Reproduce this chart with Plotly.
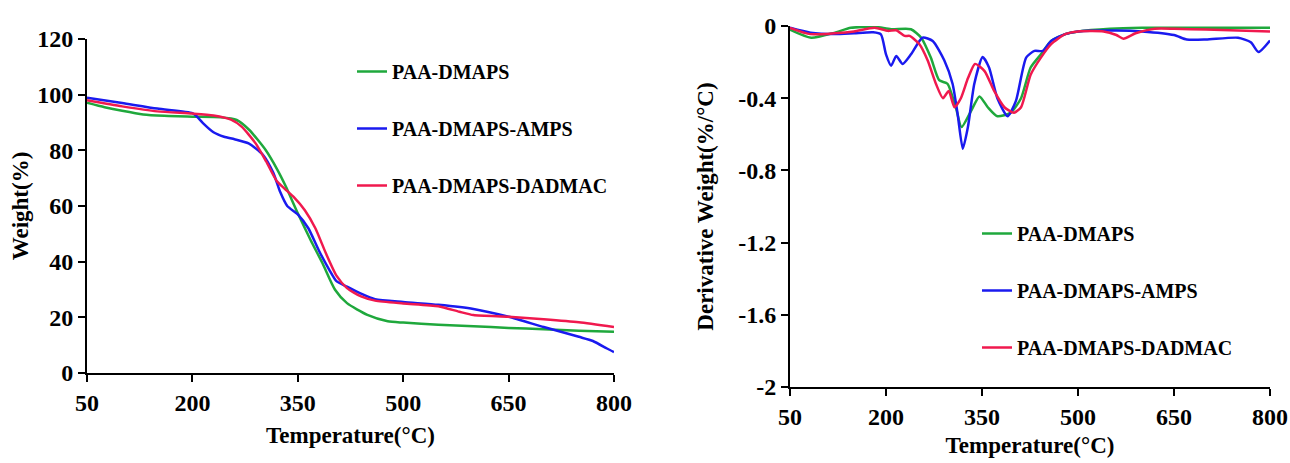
import plotly.graph_objects as go

# ---- TGA (left) ----
tga_green_x = [50, 75, 100, 130, 160, 200, 240, 263, 281, 304, 321, 333, 350, 368, 385, 403, 420, 449, 478, 500, 550, 600, 650, 700, 750, 800]
tga_green_y = [97.1, 95.5, 94.2, 92.9, 92.4, 92.1, 91.9, 90.9, 87.3, 80.2, 73.0, 67.0, 57.4, 47.9, 39.5, 29.9, 25.1, 20.9, 18.6, 18.1, 17.3, 16.8, 16.2, 15.7, 15.2, 14.8]

tga_blue_x = [50, 100, 150, 200, 205, 215, 230, 245, 260, 280, 300, 315, 325, 335, 350, 365, 380, 395, 405, 420, 440, 460, 500, 550, 600, 650, 700, 750, 770, 790, 800]
tga_blue_y = [98.9, 97.0, 95.0, 93.4, 92.5, 89.8, 86.5, 84.9, 84.0, 82.5, 78.5, 72.0, 65.0, 60.0, 57.0, 52.0, 44.0, 37.0, 33.0, 31.0, 28.5, 26.5, 25.5, 24.5, 23.0, 20.2, 16.5, 13.0, 11.5, 8.8, 7.5]

tga_red_x = [50, 100, 150, 200, 230, 255, 270, 290, 305, 320, 330, 345, 360, 375, 390, 405, 420, 440, 460, 500, 550, 580, 600, 650, 700, 750, 800]
tga_red_y = [98.0, 95.8, 94.0, 93.2, 92.5, 91.0, 88.5, 82.5, 76.0, 69.0, 66.5, 63.0, 58.5, 52.0, 43.0, 35.0, 30.5, 27.5, 26.0, 25.0, 24.0, 22.0, 20.8, 20.2, 19.3, 18.2, 16.5]

# ---- DTG (right) ----
dtg_green_x = [50, 83, 119, 145, 182, 208, 239, 255, 270, 283, 296, 309, 318, 333, 346, 359, 374, 395, 411, 426, 442, 458, 480, 500, 550, 600, 650, 700, 750, 800]
dtg_green_y = [-0.02, -0.065, -0.038, -0.01, -0.004, -0.018, -0.018, -0.065, -0.175, -0.30, -0.32, -0.45, -0.56, -0.47, -0.39, -0.45, -0.50, -0.48, -0.40, -0.23, -0.157, -0.083, -0.045, -0.03, -0.015, -0.01, -0.01, -0.01, -0.01, -0.01]

dtg_blue_x = [50, 82, 120, 150, 180, 192, 200, 208, 216, 226, 239, 257, 273, 291, 304, 312, 320, 328, 338, 351, 361, 374, 390, 403, 419, 432, 445, 458, 480, 500, 560, 600, 650, 670, 700, 750, 770, 782, 800]
dtg_blue_y = [-0.01, -0.037, -0.045, -0.04, -0.035, -0.046, -0.157, -0.22, -0.166, -0.21, -0.157, -0.065, -0.083, -0.19, -0.32, -0.49, -0.68, -0.56, -0.32, -0.172, -0.23, -0.40, -0.50, -0.415, -0.175, -0.138, -0.138, -0.083, -0.045, -0.03, -0.025, -0.03, -0.05, -0.075, -0.075, -0.065, -0.09, -0.144, -0.08]

dtg_red_x = [50, 82, 120, 150, 182, 203, 216, 229, 237, 252, 265, 278, 289, 298, 307, 317, 328, 339, 354, 369, 385, 400, 411, 426, 442, 458, 480, 500, 540, 560, 571, 590, 620, 650, 700, 750, 800]
dtg_red_y = [-0.01, -0.045, -0.04, -0.03, -0.01, -0.027, -0.024, -0.055, -0.055, -0.10, -0.19, -0.32, -0.40, -0.36, -0.45, -0.40, -0.29, -0.21, -0.25, -0.36, -0.45, -0.48, -0.45, -0.27, -0.175, -0.10, -0.045, -0.03, -0.03, -0.05, -0.07, -0.04, -0.015, -0.015, -0.02, -0.025, -0.03]

names = ["PAA-DMAPS", "PAA-DMAPS-AMPS", "PAA-DMAPS-DADMAC"]
colors = ["#1fa83c", "#1a1aef", "#f0194e"]

x_ticks = [50, 200, 350, 500, 650, 800]
tga_ticks = [0, 20, 40, 60, 80, 100, 120]
dtg_ticks = [0, -0.4, -0.8, -1.2, -1.6, -2]
dtg_tick_text = ["0", "-0.4", "-0.8", "-1.2", "-1.6", "-2"]

FONT = "Liberation Serif"

fig = go.Figure()

tga = [(tga_green_x, tga_green_y), (tga_blue_x, tga_blue_y), (tga_red_x, tga_red_y)]
dtg = [(dtg_green_x, dtg_green_y), (dtg_blue_x, dtg_blue_y), (dtg_red_x, dtg_red_y)]

for i, (x, y) in enumerate(tga):
    fig.add_trace(go.Scatter(x=x, y=y, mode="lines", name=names[i],
                             line=dict(color=colors[i], width=2.5, shape="spline", smoothing=0.6),
                             xaxis="x", yaxis="y", legend="legend", legendgroup="a%d" % i))
for i, (x, y) in enumerate(dtg):
    fig.add_trace(go.Scatter(x=x, y=y, mode="lines", name=names[i],
                             line=dict(color=colors[i], width=2.5, shape="spline", smoothing=0.6),
                             xaxis="x2", yaxis="y2", legend="legend2", legendgroup="b%d" % i))

W, H = 1290, 463
def fx(px):
    return px / W
def fy(py):
    return (H - py) / H

axis_common = dict(showline=True, linecolor="black", linewidth=2, ticks="outside",
                   ticklen=7, tickwidth=2, tickcolor="black", showgrid=False, zeroline=False,
                   automargin=False,
                   tickfont=dict(family=FONT, size=24, color="black", weight="bold"),
                   title_font=dict(family=FONT, size=23, color="black", weight="bold"))

fig.update_layout(
    width=W, height=H,
    margin=dict(l=0, r=0, t=0, b=0, autoexpand=False),
    paper_bgcolor="white", plot_bgcolor="white",
    font=dict(family=FONT, color="black"),
    xaxis=dict(domain=[fx(87), fx(614)], range=[50, 800], tickvals=x_ticks,
               anchor="y", title=dict(text="Temperature(°C)", standoff=12), **axis_common),
    yaxis=dict(domain=[fy(373), fy(39)], range=[0, 120], tickvals=tga_ticks,
               anchor="x", title=dict(text="Weight(%)", standoff=2), **axis_common),
    xaxis2=dict(domain=[fx(790), fx(1270)], range=[50, 800], tickvals=x_ticks,
                anchor="y2", title=dict(text="Temperature(°C)", standoff=8), **axis_common),
    yaxis2=dict(domain=[fy(387), fy(26)], range=[-2, 0], tickvals=dtg_ticks, ticktext=dtg_tick_text,
                anchor="x2", title=dict(text="Derivative Weight(%/°C)", standoff=18), **axis_common),
    legend=dict(x=fx(352), y=fy(52), xanchor="left", yanchor="top",
                font=dict(family=FONT, size=20, color="black", weight="bold"),
                bgcolor="rgba(0,0,0,0)", tracegroupgap=28, itemwidth=30),
    legend2=dict(x=fx(977), y=fy(214), xanchor="left", yanchor="top",
                 font=dict(family=FONT, size=20, color="black", weight="bold"),
                 bgcolor="rgba(0,0,0,0)", tracegroupgap=28, itemwidth=30),
    showlegend=True,
)

fig.write_html("out.html", config={"displayModeBar": False},
               post_script="document.body.style.margin='0';document.body.style.overflow='hidden';")
